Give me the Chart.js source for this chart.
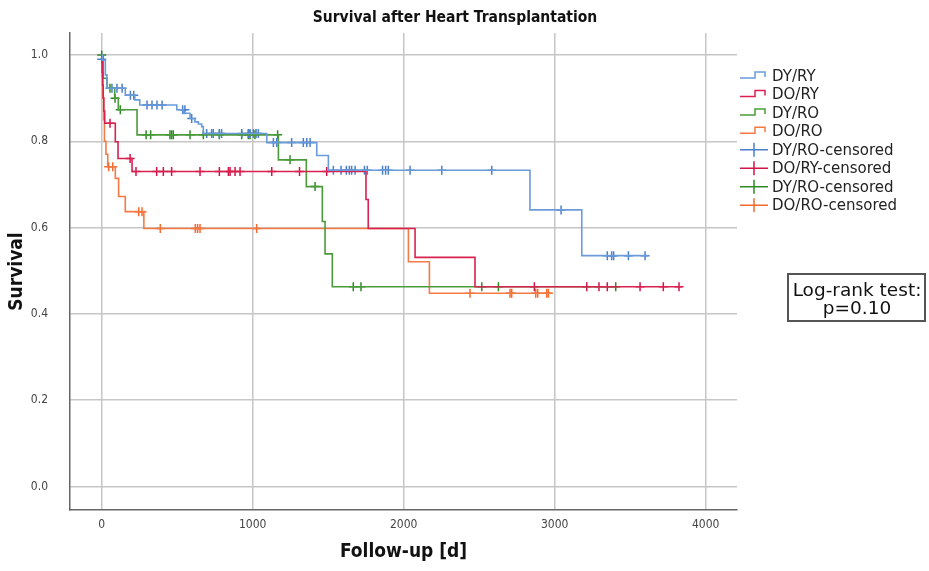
<!DOCTYPE html>
<html>
<head>
<meta charset="utf-8">
<script src="https://cdn.jsdelivr.net/npm/chart.js@4.4.1/dist/chart.umd.min.js"></script>
<style>
  html, body { margin: 0; padding: 0; background: #fff; }
</style>
</head>
<body>
<canvas id="myChart" width="929" height="571"></canvas>
<script>
const chartTitle = 'Survival after Heart Transplantation';
const xTitle = 'Follow-up [d]';
const yTitle = 'Survival';
const testLines = ['Log-rank test:', 'p=0.10'];

const groupLabels = ['DY/RY', 'DO/RY', 'DY/RO', 'DO/RO'];
const censorLabels = ['DY/RO-censored', 'DO/RY-censored', 'DY/RO-censored', 'DO/RO-censored'];

const xTicks = [0, 1000, 2000, 3000, 4000];
const yTicks = [0, 0.2, 0.4, 0.6, 0.8, 1.0];

// Kaplan-Meier steps: time of event [d] and survival after it
const dyryTime = [0, 5, 24, 35, 156, 219, 252, 497, 540, 585, 617, 640, 662, 673, 1093, 1424, 1501, 2836, 3179, 3620];
const dyrySurv = [1.0, 0.988, 0.954, 0.923, 0.907, 0.896, 0.884, 0.873, 0.865, 0.853, 0.845, 0.840, 0.834, 0.818, 0.797, 0.767, 0.733, 0.641, 0.535, 0.535];

const doryTime = [0, 3, 6, 10, 14, 20, 90, 108, 201, 1750, 1765, 2075, 2472, 3841];
const dorySurv = [1.0, 0.96, 0.93, 0.90, 0.87, 0.842, 0.799, 0.760, 0.730, 0.665, 0.598, 0.531, 0.463, 0.463];

const dyroTime = [0, 10, 35, 86, 110, 234, 1170, 1355, 1461, 1479, 1527, 3420];
const dyroSurv = [1.0, 0.946, 0.923, 0.900, 0.873, 0.815, 0.757, 0.695, 0.614, 0.539, 0.463, 0.463];

const doroTime = [0, 4, 8, 12, 18, 28, 40, 90, 112, 156, 279, 2031, 2170, 2980];
const doroSurv = [1.0, 0.95, 0.90, 0.85, 0.80, 0.77, 0.741, 0.714, 0.672, 0.637, 0.598, 0.521, 0.448, 0.448];

// censored cases: follow-up time and survival level at that time
const dyryCensTime = [0, 68, 101, 135, 190, 212, 300, 333, 366, 400, 536, 551, 596,
  695, 728, 739, 779, 794, 927, 971, 982, 1004, 1022, 1037,
  1137, 1159, 1258, 1335, 1358, 1380,
  1534, 1585, 1620, 1640, 1655, 1678, 1740, 1759, 1860, 1880, 1898, 2042, 2252, 2583,
  3042, 3348, 3377, 3390, 3488, 3598];
const dyryCensSurv = [0.99, 0.923, 0.923, 0.923, 0.907, 0.907, 0.884, 0.884, 0.884, 0.884, 0.873, 0.873, 0.853,
  0.818, 0.818, 0.818, 0.818, 0.818, 0.818, 0.818, 0.818, 0.818, 0.818, 0.818,
  0.797, 0.797, 0.797, 0.797, 0.797, 0.797,
  0.733, 0.733, 0.733, 0.733, 0.733, 0.733, 0.733, 0.733, 0.733, 0.733, 0.733, 0.733, 0.733, 0.733,
  0.641, 0.535, 0.535, 0.535, 0.535, 0.535];

const doryCensTime = [55, 188, 227, 364, 408, 463, 651, 779, 839, 850, 883, 916, 1126, 1310, 1490,
  2865, 3212, 3293, 3348, 3565, 3719, 3823];
const doryCensSurv = [0.842, 0.760, 0.730, 0.730, 0.730, 0.730, 0.730, 0.730, 0.730, 0.730, 0.730, 0.730, 0.730, 0.730, 0.730,
  0.463, 0.463, 0.463, 0.463, 0.463, 0.463, 0.463];

const dyroCensTime = [0, 55, 88, 123, 294, 324, 452, 463, 474, 585, 673, 779, 927, 971, 982, 1015, 1165,
  1247, 1413, 1666, 1717, 2517, 2627, 3404];
const dyroCensSurv = [1.0, 0.923, 0.900, 0.873, 0.815, 0.815, 0.815, 0.815, 0.815, 0.815, 0.815, 0.815, 0.815, 0.815, 0.815, 0.815, 0.815,
  0.757, 0.695, 0.463, 0.463, 0.463, 0.463, 0.463];

const doroCensTime = [46, 73, 245, 267, 388, 620, 635, 651, 1026, 2439, 2704, 2715, 2874, 2887, 2947, 2958];
const doroCensSurv = [0.741, 0.741, 0.637, 0.637, 0.598, 0.598, 0.598, 0.598, 0.598, 0.448, 0.448, 0.448, 0.448, 0.448, 0.448, 0.448];

const lineColors = ['#6b9bd9', '#d9224f', '#4c9a3b', '#f57b45'];
const censorColors = ['#4a7fcb', '#d01549', '#2f8a26', '#f5692c'];

const narrow = "'Liberation Sans Narrow', 'DejaVu Sans Condensed', 'Roboto Condensed', 'Liberation Sans', sans-serif";
const plain = "'DejaVu Sans', 'Noto Sans', sans-serif";

const toPoints = (xs, ys) => xs.map((x, i) => ({ x: x, y: ys[i] }));

const curves = [[dyryTime, dyrySurv], [doryTime, dorySurv], [dyroTime, dyroSurv], [doroTime, doroSurv]];
const censored = [[dyryCensTime, dyryCensSurv], [doryCensTime, doryCensSurv], [dyroCensTime, dyroCensSurv], [doroCensTime, doroCensSurv]];

const datasets = [];
curves.forEach((c, i) => {
  datasets.push({
    type: 'line',
    label: groupLabels[i],
    data: toPoints(c[0], c[1]),
    stepped: 'before',
    borderColor: lineColors[i],
    borderWidth: 1.6,
    pointRadius: 0,
    fill: false,
    kind: 'step'
  });
});
censored.forEach((c, i) => {
  datasets.push({
    type: 'scatter',
    label: censorLabels[i],
    data: toPoints(c[0], c[1]),
    showLine: false,
    pointStyle: 'cross',
    pointRadius: 4.5,
    borderWidth: 1.5,
    borderColor: censorColors[i],
    backgroundColor: censorColors[i],
    kind: 'cross'
  });
});

// title, legend and test box drawn on top of the plot
const overlay = {
  id: 'kmOverlay',
  afterDraw(chart) {
    const ctx = chart.ctx;
    ctx.save();
    ctx.fillStyle = '#111';
    ctx.textAlign = 'center';
    ctx.textBaseline = 'middle';
    ctx.font = 'bold 15.5px ' + narrow;
    ctx.fillText(chartTitle, 455, 18);

    // legend
    const lx = 740, rowY = 76, rowH = 18.45;
    ctx.font = '15px ' + plain;
    ctx.textAlign = 'left';
    chart.data.datasets.forEach((ds, i) => {
      const y = rowY + i * rowH;
      ctx.strokeStyle = ds.borderColor;
      ctx.lineWidth = 1.5;
      ctx.beginPath();
      if (ds.kind === 'step') {
        ctx.moveTo(lx, y + 2);
        ctx.lineTo(lx + 15, y + 2);
        ctx.lineTo(lx + 15, y - 4);
        ctx.lineTo(lx + 25, y - 4);
        ctx.lineTo(lx + 25, y + 1);
      } else {
        ctx.moveTo(lx, y);
        ctx.lineTo(lx + 28, y);
        ctx.moveTo(lx + 14, y - 7);
        ctx.lineTo(lx + 14, y + 7);
      }
      ctx.stroke();
      ctx.fillStyle = '#222';
      ctx.fillText(ds.label, lx + 32, y + 1);
    });

    // log-rank box
    ctx.strokeStyle = '#555';
    ctx.lineWidth = 2;
    ctx.strokeRect(788, 274, 137, 47);
    ctx.fillStyle = '#111';
    ctx.textAlign = 'center';
    ctx.font = '18.5px ' + plain;
    ctx.fillText(testLines[0], 857, 291);
    ctx.fillText(testLines[1], 857, 309);
    ctx.restore();
  }
};

const ctx = document.getElementById('myChart').getContext('2d');
const myChart = new Chart(ctx, {
  data: { datasets: datasets },
  options: {
    responsive: false,
    animation: false,
    events: [],
    layout: { padding: { top: 33, right: 192, left: 0, bottom: 0 } },
    plugins: { legend: { display: false }, tooltip: { enabled: false } },
    scales: {
      x: {
        type: 'linear',
        min: -210,
        max: 4207,
        afterBuildTicks: s => { s.ticks = xTicks.map(v => ({ value: v })); },
        afterFit: s => { s.height = 61; },
        grid: { color: '#c6c6c6', lineWidth: 1.5, drawTicks: false },
        border: { color: '#666', width: 1.5 },
        ticks: { padding: 8, maxRotation: 0, color: '#444', font: { family: narrow, size: 12 }, callback: v => String(v) },
        title: { display: true, text: xTitle, color: '#111', font: { family: narrow, size: 19, weight: 'bold' }, padding: { top: 8, bottom: 8 } }
      },
      y: {
        type: 'linear',
        min: -0.0545,
        max: 1.051,
        afterBuildTicks: s => { s.ticks = yTicks.map(v => ({ value: v })); },
        afterFit: s => { s.width = 70; },
        grid: { color: '#c6c6c6', lineWidth: 1.5, drawTicks: false },
        border: { color: '#666', width: 1.5 },
        ticks: { padding: 22, color: '#444', font: { family: narrow, size: 12 }, callback: v => v.toFixed(1) },
        title: { display: true, text: yTitle, color: '#111', font: { family: narrow, size: 19, weight: 'bold' }, padding: { top: 6, bottom: 6 } }
      }
    }
  },
  plugins: [overlay]
});
</script>
</body>
</html>
